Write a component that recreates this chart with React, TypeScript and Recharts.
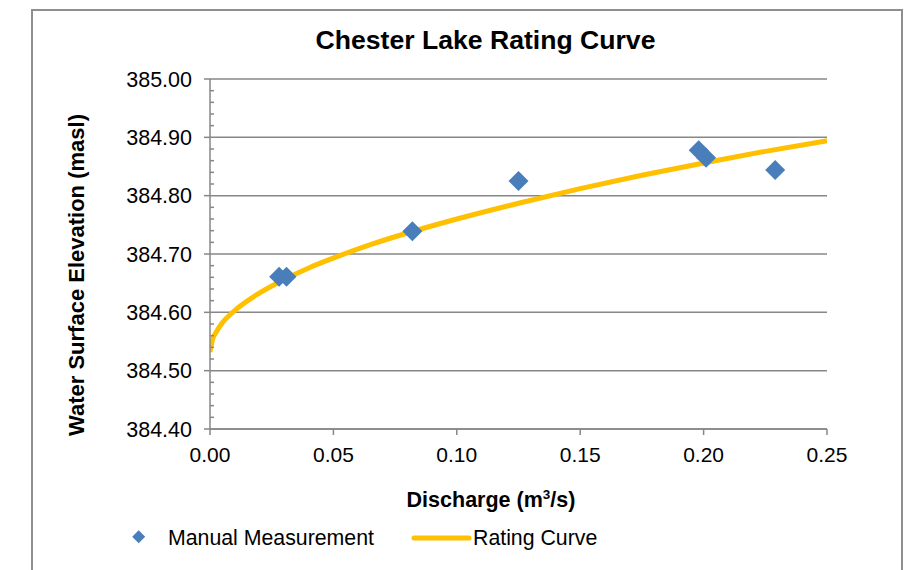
import React from 'react';
import {
  ComposedChart, Line, Scatter, XAxis, YAxis, CartesianGrid,
} from 'recharts';

// manual discharge measurements (m3/s) vs water surface elevation (masl)
const MEAS_Q = [0.028, 0.031, 0.082, 0.125, 0.198, 0.201, 0.229];
const MEAS_H = [384.661, 384.661, 384.739, 384.825, 384.878, 384.865, 384.844];

// rating curve
const CURVE_Q = [0, 0.001, 0.0025, 0.005, 0.01, 0.02, 0.03, 0.04, 0.05, 0.065, 0.08, 0.1, 0.125, 0.15, 0.175, 0.2, 0.225, 0.25];
const CURVE_H = [384.532, 384.553, 384.566, 384.582, 384.603, 384.633, 384.656, 384.676, 384.693, 384.716, 384.736, 384.76, 384.787, 384.812, 384.835, 384.856, 384.876, 384.894];

const X_TICKS = [0, 0.05, 0.1, 0.15, 0.2, 0.25];
const Y_TICKS = [384.4, 384.5, 384.6, 384.7, 384.8, 384.9, 385.0];
const Y_MINOR = [
  384.42, 384.44, 384.46, 384.48, 384.52, 384.54, 384.56, 384.58,
  384.62, 384.64, 384.66, 384.68, 384.72, 384.74, 384.76, 384.78,
  384.82, 384.84, 384.86, 384.88, 384.92, 384.94, 384.96, 384.98,
];
const Y_ALL = [...Y_TICKS, ...Y_MINOR].sort((a, b) => a - b);

const measData = MEAS_Q.map((q, i) => ({ x: q, y: MEAS_H[i] }));
const curveData = CURVE_Q.map((q, i) => ({ x: q, y: CURVE_H[i] }));

const FONT = '"Liberation Sans", Arial, sans-serif';
const GRID = '#878787';
const BLUE = '#4A7EBB';
const GOLD = '#FFC000';
const TICK_SIZE = 6;
const TICK_MARGIN = 12;

function Diamond(props: any) {
  const { cx, cy } = props;
  const r = 10;
  return (
    <polygon
      points={`${cx},${cy - r} ${cx + r},${cy} ${cx},${cy + r} ${cx - r},${cy}`}
      fill={BLUE}
    />
  );
}

// major ticks point out with a label, minor ticks point into the plot
function YTick(props: any) {
  const { x, y, payload } = props;
  const v = payload.value as number;
  const axisX = x + TICK_SIZE + TICK_MARGIN;
  const major = Y_TICKS.some((t) => Math.abs(t - v) < 1e-6);
  if (!major) {
    return <line x1={axisX} x2={axisX + 4} y1={y} y2={y} stroke={GRID} strokeWidth={1.5} />;
  }
  return (
    <g>
      <line x1={axisX - TICK_SIZE} x2={axisX} y1={y} y2={y} stroke={GRID} strokeWidth={1.5} />
      <text x={x} y={y} dy="0.355em" textAnchor="end" fill="#000" fontSize={21.5} fontFamily={FONT}>
        {v.toFixed(2)}
      </text>
    </g>
  );
}

export default function App() {
  return (
    <div style={{ position: 'absolute', left: 0, top: 0, width: 916, height: 570, overflow: 'hidden', background: '#fff', fontFamily: FONT }}>
      <div style={{ position: 'absolute', left: 31, top: 9, width: 868, height: 620, border: '2px solid #8e8e8e' }} />
      <div style={{ position: 'absolute', left: 0, top: 0 }}>
        <ComposedChart width={916} height={570} margin={{ top: 79, right: 89, bottom: 111, left: 140 }}>
          <CartesianGrid horizontal vertical={false} horizontalValues={Y_TICKS} stroke={GRID} strokeWidth={1.5} />
          <XAxis
            type="number"
            dataKey="x"
            domain={[0, 0.25]}
            ticks={X_TICKS}
            allowDataOverflow
            height={30}
            tickFormatter={(v: number) => v.toFixed(2)}
            tick={{ fill: '#000', fontSize: 21, fontFamily: FONT }}
            axisLine={{ stroke: GRID, strokeWidth: 1.5 }}
            tickLine={{ stroke: GRID, strokeWidth: 1.5 }}
            tickSize={TICK_SIZE}
            tickMargin={TICK_MARGIN}
          />
          <YAxis
            type="number"
            domain={[384.4, 385]}
            ticks={Y_ALL}
            interval={0}
            allowDataOverflow
            width={70}
            tick={<YTick />}
            axisLine={{ stroke: GRID, strokeWidth: 1.5 }}
            tickLine={false}
            tickSize={TICK_SIZE}
            tickMargin={TICK_MARGIN}
          />
          <Line
            data={curveData}
            dataKey="y"
            type="monotone"
            stroke={GOLD}
            strokeWidth={5}
            dot={false}
            activeDot={false}
            isAnimationActive={false}
          />
          <Scatter data={measData} dataKey="y" shape={<Diamond />} isAnimationActive={false} />
        </ComposedChart>
      </div>
      <svg width={916} height={570} style={{ position: 'absolute', left: 0, top: 0, pointerEvents: 'none' }}>
        <text x={485.5} y={49} textAnchor="middle" fontFamily={FONT} fontWeight="bold" fontSize={26.6} fill="#000">
          Chester Lake Rating Curve
        </text>
        <text
          x={84}
          y={275}
          transform="rotate(-90 84 275)"
          textAnchor="middle"
          fontFamily={FONT}
          fontWeight="bold"
          fontSize={22}
          fill="#000"
        >
          Water Surface Elevation (masl)
        </text>
        <text x={491} y={507} textAnchor="middle" fontFamily={FONT} fontWeight="bold" fontSize={21.5} fill="#000">
          Discharge (m<tspan dy={-8} fontSize={13.5}>3</tspan><tspan dy={8}>/s)</tspan>
        </text>
        <polygon points="138.7,530.2 145.2,536.7 138.7,543.2 132.2,536.7" fill={BLUE} />
        <text x={168} y={545} fontFamily={FONT} fontSize={21.3} fill="#000">Manual Measurement</text>
        <line x1={414} y1={538} x2={469} y2={538} stroke={GOLD} strokeWidth={5} strokeLinecap="round" />
        <text x={473} y={545} fontFamily={FONT} fontSize={21.3} fill="#000">Rating Curve</text>
      </svg>
    </div>
  );
}
